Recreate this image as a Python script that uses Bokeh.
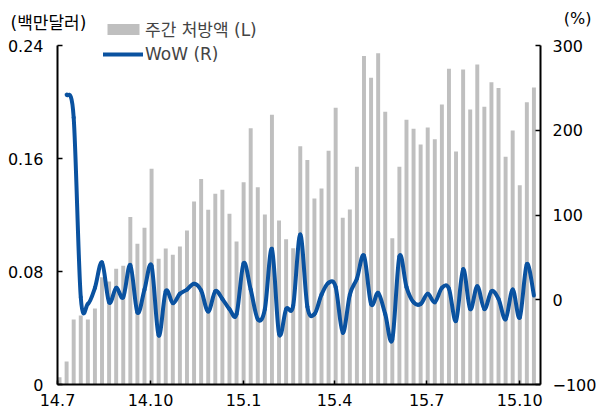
import pandas as pd
from bokeh.plotting import figure
from bokeh.models import (Range1d, LinearAxis, FixedTicker, Legend, LegendItem,
                          Title, ColumnDataSource)
from bokeh.embed import file_html
from bokeh.resources import INLINE

# ---- data ----
start_week = "2014-07-03"
bars = [0.0052, 0.0163, 0.046, 0.0488, 0.046, 0.0538, 0.076, 0.073, 0.082, 0.084,
        0.1185, 0.0996, 0.111, 0.1527, 0.089, 0.0963, 0.0918, 0.0977, 0.109, 0.1296,
        0.1454, 0.1237, 0.135, 0.1378, 0.1208, 0.1012, 0.1432, 0.1815, 0.1397, 0.1204,
        0.1909, 0.1161, 0.1029, 0.0965, 0.1687, 0.159, 0.1316, 0.1387, 0.1655, 0.196,
        0.1181, 0.1239, 0.1541, 0.2325, 0.2171, 0.2346, 0.1931, 0.1036, 0.1541, 0.1874,
        0.181, 0.1699, 0.182, 0.1737, 0.1982, 0.2235, 0.165, 0.223, 0.1947, 0.2265,
        0.1966, 0.214, 0.21, 0.1612, 0.1798, 0.1411, 0.1999, 0.2103]
wow = [242, 215, 3, -5, 14, 44, -3, 14, 3, 41,
       -15, 12, 40, -42, 10, -4, 7, 12, 19, 11,
       -14, 10, 1, -11, -17, 43, 12, -23, -11, 60,
       -40, -11, -7, 77, -8, -17, 6, 20, 15, -39,
       6, 25, 52, -5, 8, -17, -47, 51, 15, -3,
       -5, 7, -3, 14, 13, -25, 36, -11, 16, -11,
       10, 1, -23, 12, -21, 42, 5]
tick_dates = ["2014-07-01", "2014-10-01", "2015-01-01", "2015-04-01", "2015-07-01", "2015-10-01"]
tick_labels = ["14.7", "14.10", "15.1", "15.4", "15.7", "15.10"]
left_ticks = [0, 0.08, 0.16, 0.24]
right_ticks = [-100, 0, 100, 200, 300]
bar_name = "주간 처방액 (L)"
line_name = "WoW (R)"
left_unit = "(백만달러)"
right_unit = "(%)"

def ms(d):
    return int(pd.Timestamp(d).value // 10**6)

dates = pd.date_range(start_week, periods=len(bars), freq="7D")
xs = [ms(d) for d in dates]
DAY = 86400000

FONT = "'DejaVu Sans', 'Noto Sans CJK KR'"
TICK_FS = "16px"
LEG_FS = "17px"

# layout (screen px)
W, H = 599, 412
FL, FR, FT, FB = 57, 542, 14, 384       # frame edges
DATA_TOP = 45                            # y of the top tick (0.24 / 300)
frame_h = FB - FT
data_h = FB - DATA_TOP
l_lo, l_hi = left_ticks[0], left_ticks[-1]
r_lo, r_hi = right_ticks[0], right_ticks[-1]
l_top = l_lo + (l_hi - l_lo) * frame_h / data_h
r_top = r_lo + (r_hi - r_lo) * frame_h / data_h

p = figure(width=W, height=H, output_backend="svg", toolbar_location=None,
           x_range=Range1d(ms("2014-07-01"), ms("2015-10-21 12:00")),
           y_range=Range1d(l_lo, l_top))
p.min_border_left = FL
p.min_border_right = W - FR
p.min_border_top = FT
p.min_border_bottom = H - FB
p.outline_line_color = None
p.grid.visible = False
p.background_fill_color = "white"
p.border_fill_color = "white"
p.extra_y_ranges = {"right": Range1d(r_lo, r_top)}

bsrc = ColumnDataSource(dict(x=xs, top=bars))
rb = p.vbar(x="x", top="top", width=3.9 * DAY, source=bsrc, color="#BFBFBF", line_color=None)

# smoothed WoW line: cubic Bezier pieces through the data points (Catmull-Rom)
lx, ly = xs[1:], wow
n = len(ly)
seg = dict(x0=[], y0=[], x1=[], y1=[], cx0=[], cy0=[], cx1=[], cy1=[])
for i in range(n - 1):
    a, b = max(i - 1, 0), min(i + 2, n - 1)
    seg["x0"].append(lx[i]); seg["y0"].append(ly[i])
    seg["x1"].append(lx[i + 1]); seg["y1"].append(ly[i + 1])
    seg["cx0"].append(lx[i] + (lx[i + 1] - lx[a]) / 6)
    seg["cy0"].append(ly[i] + (ly[i + 1] - ly[a]) / 6)
    seg["cx1"].append(lx[i + 1] - (lx[b] - lx[i]) / 6)
    seg["cy1"].append(ly[i + 1] - (ly[b] - ly[i]) / 6)
rl = p.bezier(source=ColumnDataSource(seg), x0="x0", y0="y0", x1="x1", y1="y1",
              cx0="cx0", cy0="cy0", cx1="cx1", cy1="cy1", y_range_name="right",
              line_color="#0A52A0", line_width=4, line_cap="round")

# axes
xa = p.xaxis[0]
xa.ticker = FixedTicker(ticks=[ms(d) for d in tick_dates])
xa.major_label_overrides = {ms(d): l for d, l in zip(tick_dates, tick_labels)}
ya = p.yaxis[0]
ya.ticker = FixedTicker(ticks=left_ticks)
ya.bounds = (l_lo, l_hi)
ya.major_label_overrides = {0: "0"}
ra = LinearAxis(y_range_name="right", ticker=FixedTicker(ticks=right_ticks),
                bounds=(r_lo, r_hi),
                major_label_overrides={-100: "\u2212100"})
p.add_layout(ra, "right")

for ax in (xa, ya, ra):
    ax.axis_line_color = "black"
    ax.axis_line_width = 2
    ax.major_tick_line_color = "black"
    ax.major_tick_line_width = 1.5
    ax.major_tick_out = 0
    ax.minor_tick_line_color = None
    ax.major_label_text_font = FONT
    ax.major_label_text_font_size = TICK_FS
    ax.major_label_text_color = "black"
xa.major_tick_in = 4
ya.major_tick_in = 5
ra.major_tick_in = 5
xa.major_label_standoff = 9
ya.major_label_standoff = 14
ra.major_label_standoff = 12

legend = Legend(items=[LegendItem(label=bar_name, renderers=[rb]),
                       LegendItem(label=line_name, renderers=[rl])],
                location=(46, FB - 64), orientation="vertical",
                glyph_width=40, glyph_height=14, label_standoff=2,
                label_text_font=FONT, label_text_font_size=LEG_FS,
                label_height=14, spacing=3, padding=0, margin=0,
                border_line_color=None, background_fill_alpha=0)
p.add_layout(legend)

# unit captions, drawn as titles hugging the frame top
p.add_layout(Title(text=right_unit, align="right", offset=-(593 - FR), vertical_align="bottom",
                   standoff=-27, text_font=FONT, text_font_size=TICK_FS,
                   text_font_style="normal", text_color="black"), "above")
p.add_layout(Title(text=left_unit, align="left", offset=10 - FL, vertical_align="bottom",
                   standoff=-36, text_font=FONT, text_font_size=LEG_FS,
                   text_font_style="normal", text_color="black"), "above")

open("out.html", "w").write(file_html(p, INLINE))
